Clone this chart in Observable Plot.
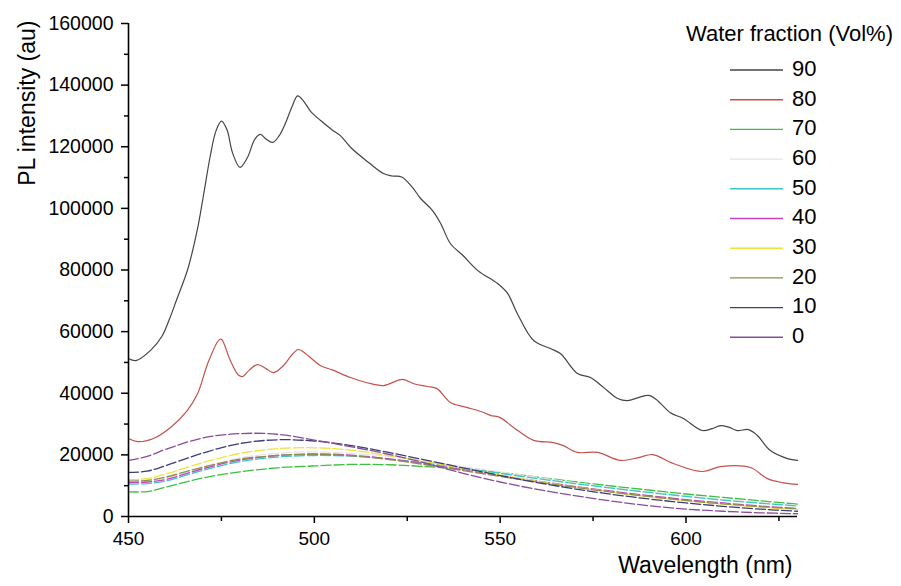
<!DOCTYPE html>
<html><head><meta charset="utf-8">
<script src="https://cdn.jsdelivr.net/npm/d3@7"></script>
<script src="https://cdn.jsdelivr.net/npm/@observablehq/plot@0.6"></script>
<style>
html,body{margin:0;padding:0;background:#fff;}
#chart{position:relative;width:901px;height:586px;}
</style></head><body><div id="chart"></div>
<script>
const seriesNames = ["90","80","70","60","50","40","30","20","10","0"];
const seriesColors = ["#454545","#c4524c","#3fbf3f","#e4e4e4","#3cc6c6","#c444c4","#eee23c","#8e8e52","#3c3c78","#8a4c98"];
const legendTitle = "Water fraction (Vol%)";
const xLabel = "Wavelength (nm)";
const yLabel = "PL intensity (au)";
const xTicks = [450,500,550,600];
const xMinor = [475,525,575,625];
const yTicks = [0,20000,40000,60000,80000,100000,120000,140000,160000];
const yMinor = [10000,30000,50000,70000,90000,110000,130000,150000];

const wl90 = [450,452,456,459,461,463,466,468.5,470,472,473.5,475,476.5,478,480,482,484,485.5,487,488.8,490.5,492,494,495.5,497,499,501.7,505,507,510,514.5,518.6,521,523.5,526.4,528.6,531.8,534,536.6,540,544,549.3,552,554.6,559,563.5,566.2,570.8,574.3,577.8,581.6,584.3,587.2,590,592,595.8,599.3,604.4,607,609.3,611.5,613.8,616.8,619.2,622.7,627.3,630];
const pl90 = [51300,50600,54000,58500,64000,70500,80500,93000,103000,117000,125000,128300,125500,118000,113300,116500,122500,124000,122500,121400,123500,127000,133000,136500,135000,131500,128500,125300,123600,119500,115000,111300,110500,110200,106800,103200,99300,95100,88600,84700,79800,75600,72400,65900,57100,54500,52900,46400,45100,41900,38300,37600,38600,39300,38000,33700,31800,27900,28500,29500,29000,27900,28200,26300,21400,18800,18200];

const wl80 = [450,452.4,456.7,461.3,465.8,468.6,471.3,474.2,475,477.4,479.5,480.7,482.5,484.7,487,489,491.7,494,495.7,497.5,501.6,505,509.7,514,518.6,523.7,527,530.4,533,536.6,541,545,547.4,550,553.6,559,564.3,567,570.8,576.2,582.4,587.2,591,596.6,604.4,609.3,617.3,621.9,626,630];
const pl80 = [25300,24300,25300,28900,34400,39900,49600,57100,57500,50600,46000,45400,47500,49300,48000,46700,49000,52500,54200,53000,49000,47500,45100,43500,42500,44500,43000,42200,41500,37000,35400,34000,32800,32100,28900,24700,24000,23000,20800,20800,18200,19100,20100,17200,14600,16200,15900,12300,11000,10400];

const wlLow = [450,455,460,470,480,490,500,510,520,530,540,550,560,570,580,590,600,610,620,630];
const pl70 = [8000,8100,9500,12500,14500,15800,16400,16900,16800,16200,15300,14300,12800,11300,9900,8600,7300,6200,5100,4000];
const pl60 = [11200,11500,12500,16000,19000,20500,21000,20500,19500,18000,16200,14500,12700,11000,9400,8000,6700,5500,4500,3600];
const pl50 = [10500,10700,11500,15000,17800,19300,19800,19600,18700,17300,15700,14000,12300,10700,9200,7800,6500,5300,4300,3400];
const pl40 = [11000,11200,12000,15500,18300,19800,20300,19900,18700,17000,15200,13300,11500,9800,8200,6800,5500,4400,3400,2600];
const pl30 = [12000,12300,13800,17500,20500,22000,22300,21500,19800,17800,15600,13500,11500,9600,7900,6400,5100,4000,3000,2300];
const pl20 = [11500,11700,12800,16000,18600,19800,20200,19700,18500,16800,14900,13000,11200,9500,7900,6500,5200,4100,3200,2500];
const pl10 = [14300,14700,16500,20600,23700,24900,24500,23000,20800,18300,15800,13300,11000,9000,7200,5700,4400,3300,2400,1700];
const pl0  = [18200,19500,21800,25500,26900,26700,24800,22600,20200,17300,14000,11200,8800,6800,5000,3500,2400,1700,1200,900];

const rowsMain = [];
wl90.forEach((w,i)=>rowsMain.push({s:"90", wl:w, v:pl90[i]}));
wl80.forEach((w,i)=>rowsMain.push({s:"80", wl:w, v:pl80[i]}));
const lowSeries = [["70",pl70],["60",pl60],["50",pl50],["40",pl40],["30",pl30],["20",pl20],["10",pl10],["0",pl0]];
const rowsLow = [];
lowSeries.forEach(([s,arr])=>wlLow.forEach((w,i)=>rowsLow.push({s, wl:w, v:arr[i]})));

const font = "'Liberation Sans', Arial, sans-serif";
const plot = Plot.plot({
  width: 901, height: 586,
  marginLeft: 128, marginRight: 104, marginTop: 23, marginBottom: 70,
  style: {fontFamily: font, background: "#fff", color: "#000", overflow: "visible"},
  x: {domain: [450, 630]},
  y: {domain: [0, 160000]},
  color: {domain: seriesNames, range: seriesColors},
  marks: [
    Plot.line(rowsLow, {x: "wl", y: "v", z: "s", stroke: "s", curve: "catmull-rom", strokeWidth: 1.3, strokeDasharray: "10,3"}),
    Plot.line(rowsMain, {x: "wl", y: "v", z: "s", stroke: "s", curve: "catmull-rom", strokeWidth: 1.2}),
    Plot.axisX(xTicks, {tickSize: 7, tickPadding: 8, fontSize: 19, label: null, tickFormat: d => String(d), strokeWidth: 1.5}),
    Plot.axisX(xMinor, {tickSize: 5, text: null, label: null, strokeWidth: 1.5}),
    Plot.axisY(yTicks, {tickSize: 7, tickPadding: 8, fontSize: 19.5, label: null, tickFormat: d => String(d), strokeWidth: 1.5}),
    Plot.axisY(yMinor, {tickSize: 4, text: null, label: null, strokeWidth: 1.5}),
    Plot.ruleY([0], {stroke: "#000", strokeWidth: 1.6}),
    Plot.ruleX([450], {stroke: "#000", strokeWidth: 1.6}),
    Plot.text([yLabel], {text: d => d, frameAnchor: "top-left", rotate: -90, textAnchor: "end", dx: -110, dy: -3, fontSize: 23, fill: "#000"}),
    Plot.text([xLabel], {text: d => d, frameAnchor: "bottom-right", textAnchor: "end", dx: -5, dy: 56, fontSize: 23, fill: "#000"})
  ]
});
document.getElementById("chart").appendChild(plot);

// Legend
const svg = d3.select(plot);
const lg = svg.append("g").attr("font-family", font).attr("fill", "#000");
lg.append("text").attr("x", 893).attr("y", 35).attr("text-anchor", "end")
  .attr("dominant-baseline", "middle").attr("font-size", 22).text(legendTitle);
seriesNames.forEach((s, i) => {
  const y = 70 + i * 29.7;
  lg.append("line").attr("x1", 730).attr("x2", 783).attr("y1", y).attr("y2", y)
    .attr("stroke", seriesColors[i]).attr("stroke-width", 1.4);
  lg.append("text").attr("x", 792).attr("y", y).attr("text-anchor", "start")
    .attr("dominant-baseline", "middle").attr("font-size", 22).text(s);
});
</script></body></html>
